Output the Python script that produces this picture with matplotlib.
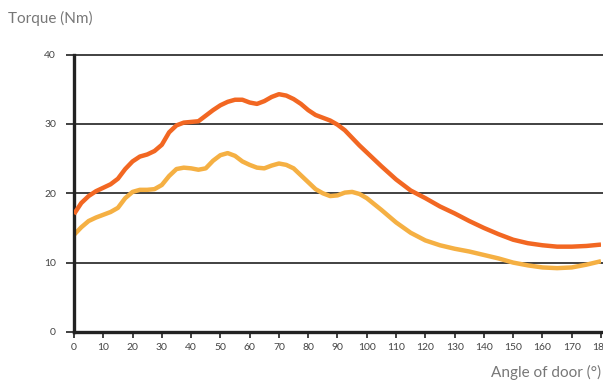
import numpy as np
import matplotlib
matplotlib.use("Agg")
import matplotlib.pyplot as plt

# door angle (deg) and measured torque (Nm) for the two samples
angle = [0, 2.5, 5, 7.5, 10, 12.5, 15, 17.5, 20, 22.5, 25, 27.5, 30, 32.5,
         35, 37.5, 40, 42.5, 45, 47.5, 50, 52.5, 55, 57.5, 60, 62.5, 65,
         67.5, 70, 72.5, 75, 77.5, 80, 82.5, 85, 87.5, 90, 92.5, 95, 97.5,
         100, 105, 110, 115, 120, 125, 130, 135, 140, 145, 150, 155, 160,
         165, 170, 175, 180]
torque_high = [17.0, 18.6, 19.6, 20.3, 20.8, 21.3, 22.1, 23.5, 24.6, 25.3,
               25.6, 26.1, 27.0, 28.8, 29.8, 30.2, 30.3, 30.4, 31.2, 32.0,
               32.7, 33.2, 33.5, 33.5, 33.1, 32.9, 33.3, 33.9, 34.3, 34.1,
               33.6, 32.9, 32.0, 31.3, 30.9, 30.5, 29.9, 29.1, 28.0, 26.9,
               25.9, 23.9, 22.0, 20.4, 19.3, 18.1, 17.1, 16.0, 15.0, 14.1,
               13.3, 12.8, 12.5, 12.3, 12.3, 12.4, 12.6]
torque_low = [14.0, 15.1, 16.0, 16.5, 16.9, 17.3, 17.9, 19.3, 20.2, 20.5,
              20.5, 20.6, 21.2, 22.5, 23.5, 23.7, 23.6, 23.4, 23.6, 24.7,
              25.5, 25.8, 25.4, 24.6, 24.1, 23.7, 23.6, 24.0, 24.3, 24.1,
              23.6, 22.6, 21.6, 20.6, 20.0, 19.6, 19.7, 20.1, 20.2, 19.9,
              19.3, 17.6, 15.8, 14.3, 13.2, 12.5, 12.0, 11.6, 11.1, 10.6,
              10.0, 9.6, 9.3, 9.2, 9.3, 9.7, 10.2]
xticks = list(range(0, 181, 10))
yticks = [0, 10, 20, 30, 40]

plt.rcParams['font.family'] = ['Lato', 'DejaVu Sans']

fig = plt.figure(figsize=(6.03, 3.89), dpi=100)
ax = fig.add_axes([0.1227, 0.1468, 0.8740, 0.7126])

for y in yticks[1:]:
    ax.axhline(y, color='#333333', lw=1.3, zorder=1, clip_on=False,
               xmax=1.005)

ax.plot(angle, torque_high, color='#F26722', lw=3.2, solid_capstyle='butt',
        solid_joinstyle='round', zorder=3)
ax.plot(angle, torque_low, color='#F5B043', lw=3.2, solid_capstyle='butt',
        solid_joinstyle='round', zorder=2)

ax.set_xlim(0, 180)
ax.set_ylim(0, 40)
ax.set_xticks(xticks)
ax.set_yticks(yticks)

for s in ['top', 'right']:
    ax.spines[s].set_visible(False)
for s in ['left', 'bottom']:
    ax.spines[s].set_linewidth(2.4)
    ax.spines[s].set_color('#222222')

ax.tick_params(axis='y', length=6, width=1.3, color='#333333',
               labelsize=7.5, labelcolor='#444444', pad=7)
ax.tick_params(axis='x', length=4, width=1.3, color='#333333',
               labelsize=7.5, labelcolor='#444444', pad=4)

fig.text(0.014, 0.952, 'Torque (Nm)', fontsize=11, color='#777777',
         ha='left', va='center')
fig.text(0.997, 0.022, 'Angle of door (°)', fontsize=11, color='#777777',
         ha='right', va='bottom')

plt.savefig('out.png', dpi=100)
plt.close()
